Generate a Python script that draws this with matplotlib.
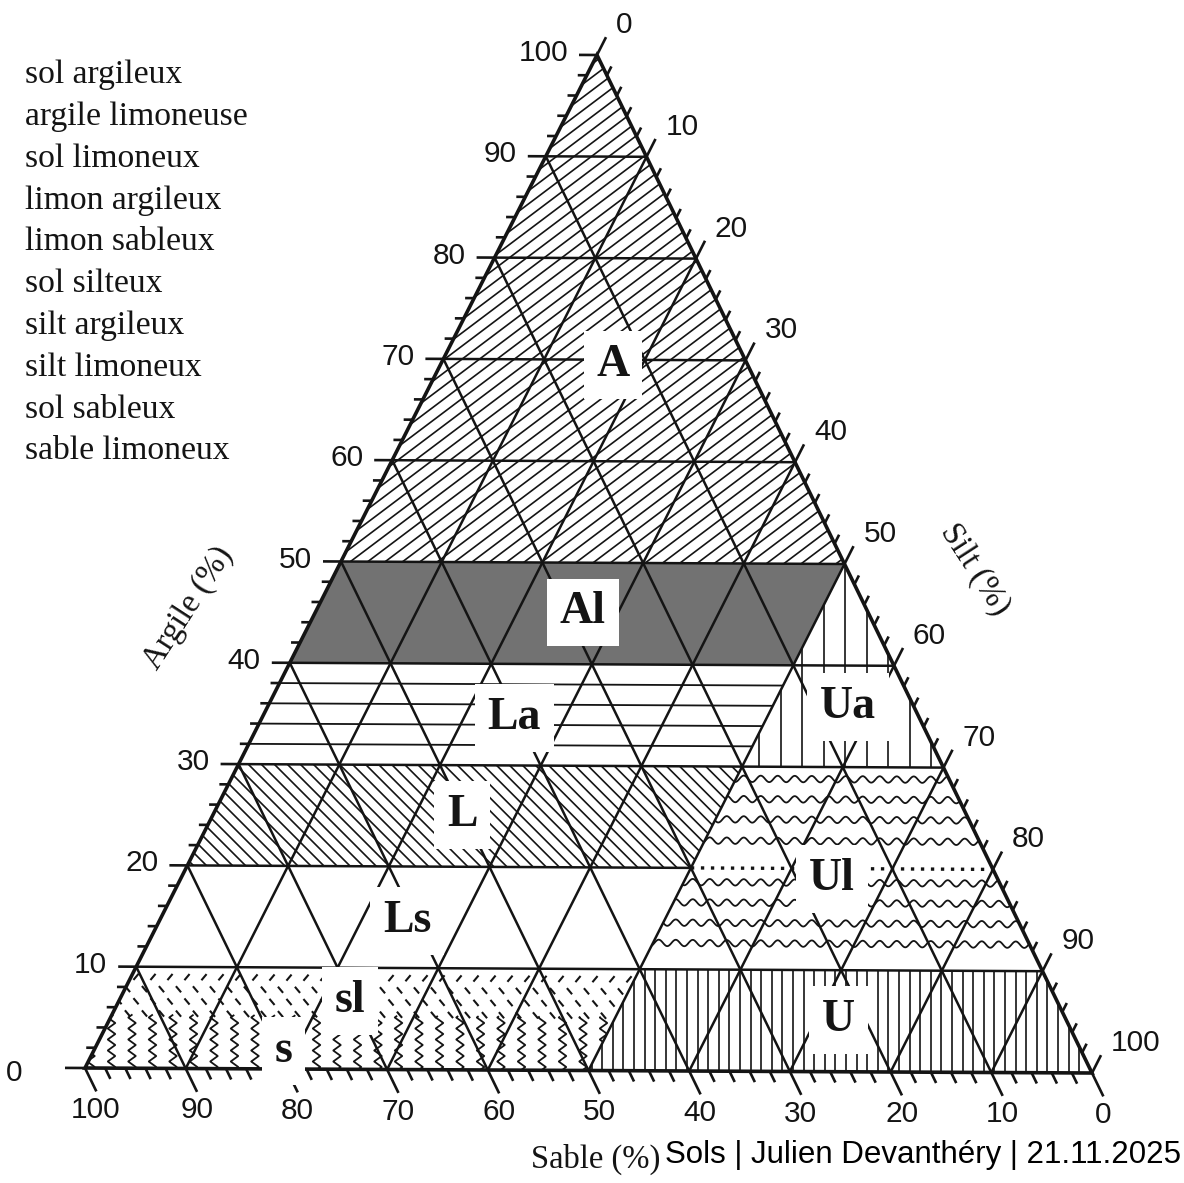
import numpy as np
import matplotlib.pyplot as plt
from matplotlib.patches import Polygon
from matplotlib.collections import LineCollection

# ------------------------------------------------------------
# Data – soil texture triangle (argile / sable / silt, in %)
# ------------------------------------------------------------
legend_names = ["sol argileux", "argile limoneuse", "sol limoneux",
                "limon argileux", "limon sableux", "sol silteux",
                "silt argileux", "silt limoneux", "sol sableux",
                "sable limoneux"]

# class corners as (argile %, sable %)
poly_A = [(100, 0), (50, 50), (50, 0)]
poly_Al = [(50, 50), (40, 60), (40, 10), (50, 0)]
poly_Ua = [(50, 0), (40, 10), (30, 20), (30, 0)]
poly_La = [(40, 60), (30, 70), (30, 20), (40, 10)]
poly_L = [(30, 70), (20, 80), (20, 30), (30, 20)]
poly_Ls = [(20, 80), (10, 90), (10, 40), (20, 30)]
poly_Ul = [(30, 20), (10, 40), (10, 0), (30, 0)]
poly_U = [(10, 40), (0, 50), (0, 0), (10, 0)]
poly_sl = [(10, 90), (0, 100), (0, 50), (10, 40)]

class_codes = ["A", "Al", "La", "L", "Ls", "sl", "s", "Ua", "Ul", "U"]

major_ticks = list(range(0, 101, 10))
minor_ticks = list(range(0, 101, 2))
grid_levels = list(range(10, 100, 10))

# ------------------------------------------------------------
# Layout / style
# ------------------------------------------------------------
TOP = np.array([597.0, 55.0])
LEFT = np.array([85.0, 1068.0])
RIGHT = np.array([1092.0, 1073.0])

INK = "#141414"
SERIF = "Liberation Serif"
SANS = "Liberation Sans"

# label anchors (argile, sable) for each class code
label_argile = [69.5, 45.1, 34.7, 25.1, 14.6, 6.7, 1.8, 35.9, 19.0, 5.1]
label_sable = [13.4, 28.4, 40.3, 50.2, 60.8, 70.4, 79.4, 6.6, 16.5, 22.7]


def tern(argile, sable):
    """(argile %, sable %) -> picture coordinates."""
    a = np.asarray(argile, dtype=float) / 100
    s = np.asarray(sable, dtype=float) / 100
    u = 1 - a - s
    x = a * TOP[0] + s * LEFT[0] + u * RIGHT[0]
    y = a * TOP[1] + s * LEFT[1] + u * RIGHT[1]
    return x, y


def to_px(poly):
    x, y = tern([p[0] for p in poly], [p[1] for p in poly])
    return np.column_stack([x, y])


def level_y(a, x):
    """y of the constant-argile line a at abscissa x."""
    x0, y0 = tern(a, 100 - a)
    x1, y1 = tern(a, 0)
    return y0 + (y1 - y0) * (np.asarray(x) - x0) / (x1 - x0)


def unit(v):
    return v / np.hypot(*v)


def clip_patch(ax, verts):
    p = Polygon(verts, closed=True, facecolor="none", edgecolor="none")
    ax.add_patch(p)
    return p


def add_clipped(ax, segs, verts, lw=1.2, ls="solid"):
    clip = clip_patch(ax, verts)
    lc = LineCollection(segs, colors=INK, linewidths=lw, linestyles=ls, zorder=2)
    ax.add_collection(lc)
    lc.set_clip_path(clip)


def hatch_lines(ax, verts, angle, spacing, lw=1.2):
    c = verts.mean(axis=0)
    r = np.hypot(*(verts.max(0) - verts.min(0)))
    th = np.deg2rad(angle)
    d = np.array([np.cos(th), -np.sin(th)])
    n = np.array([-d[1], d[0]])
    segs = []
    for k in np.arange(-r, r, spacing):
        m = c + k * n
        segs.append([m - r * d, m + r * d])
    add_clipped(ax, segs, verts, lw)


def hatch_levels(ax, verts, levels, lw=1.3):
    segs = []
    for a in levels:
        x, y = tern([a, a], [100 - a, 0])
        segs.append(list(zip(x, y)))
    add_clipped(ax, segs, verts, lw)


def wavy(ax, verts, levels, amp=3.2, wl=17.0, lw=1.3):
    xs = np.linspace(verts[:, 0].min() - 10, verts[:, 0].max() + 10, 800)
    segs = []
    for a in levels:
        ys = level_y(a, xs) + amp * np.sin(2 * np.pi * xs / wl)
        segs.append(np.column_stack([xs, ys]))
    add_clipped(ax, segs, verts, lw)


def zigzags(ax, verts, top_a, step=20.5, amp=3.8, wl=11.0, lw=1.3):
    segs = []
    for x0 in np.arange(verts[:, 0].min() + 6, verts[:, 0].max(), step):
        y_top = float(level_y(top_a, x0))
        y_bot = float(level_y(0, x0)) + 4
        ys = np.linspace(y_top, y_bot, 200)
        tri = 2 * np.abs(2 * ((ys / wl) % 1) - 1) - 1
        segs.append(np.column_stack([x0 + amp * tri, ys]))
    add_clipped(ax, segs, verts, lw)


def dashes(ax, verts, levels, step=17.0, length=8.0, lw=1.5):
    segs = []
    for i, a in enumerate(levels):
        ang = np.deg2rad(50 if i == 0 else -50)
        d = 0.5 * length * np.array([np.cos(ang), -np.sin(ang)])
        for x0 in np.arange(verts[:, 0].min() + (i % 2) * step / 2, verts[:, 0].max(), step):
            c = np.array([x0, float(level_y(a, x0))])
            segs.append([c - d, c + d])
    add_clipped(ax, segs, verts, lw)


# ------------------------------------------------------------
# Figure
# ------------------------------------------------------------
fig = plt.figure(figsize=(11.84, 11.83), dpi=100)
ax = fig.add_axes([0, 0, 1, 1])
ax.set_xlim(0, 1184)
ax.set_ylim(1183, 0)
ax.axis("off")

# ----- class fills & hatching -----
hatch_lines(ax, to_px(poly_A), 37, 10.5)
ax.add_patch(Polygon(to_px(poly_Al), closed=True, facecolor="#727272",
                     edgecolor="none", zorder=1))
hatch_levels(ax, to_px(poly_La), [38, 36, 34, 32])
hatch_lines(ax, to_px(poly_L), -45, 9.2)
hatch_lines(ax, to_px(poly_Ua), 90, 21.5)
hatch_lines(ax, to_px(poly_U), 90, 10.6)
wavy(ax, to_px(poly_Ul), [28.8, 26.8, 24.8, 22.7, 18.6, 16.6, 14.6, 12.6])
dashes(ax, to_px(poly_sl), [9.0, 7.8, 6.6, 5.4])
zigzags(ax, to_px(poly_sl), top_a=5.3)

# ----- grid -----
grid = []
for v in grid_levels:
    if v == 20:
        grid.append(list(zip(*tern([20, 20], [80, 30]))))
    else:
        grid.append(list(zip(*tern([v, v], [100 - v, 0]))))
    grid.append(list(zip(*tern([0, 100 - v], [v, v]))))          # constant sable
    grid.append(list(zip(*tern([0, 100 - v], [100 - v, 0]))))    # constant silt
ax.add_collection(LineCollection(grid, colors=INK, linewidths=1.8, zorder=3))
xd, yd = tern([20, 20], [30, 0])
ax.plot(xd, yd, color=INK, lw=2.4, ls=(0, (1, 2.0)), zorder=3)

# ----- triangle outline -----
ax.add_patch(Polygon(np.array([TOP, LEFT, RIGHT]), closed=True, facecolor="none",
                     edgecolor=INK, linewidth=2.6, zorder=4))

# ----- ticks -----
d_left = unit(LEFT - RIGHT)
d_right = unit(TOP - LEFT)
d_bottom = unit(RIGHT - TOP)
ticks = []
for v in minor_ticks:
    major = v % 10 == 0
    p = np.array(tern(v, 100 - v))                 # argile axis (left)
    ticks.append([p, p + d_left * ((20 if v == 0 else 18) if major else 9)])
    p = np.array(tern(100 - v, 0))                 # silt axis (right)
    ticks.append([p, p + d_right * (20 if major else 10)])
    p = np.array(tern(0, v))                       # sable axis (bottom)
    ticks.append([p, p + d_bottom * (26 if major else 12)])
ax.add_collection(LineCollection(ticks, colors=INK, linewidths=1.9, zorder=4))

for v in major_ticks:
    x, y = tern(v, 100 - v)
    ax.text(x - (63 if v == 0 else 29), y + (5 if v == 0 else -2), str(v),
            ha="right", va="center", fontsize=21.5, family=SANS, color=INK)
    x, y = tern(100 - v, 0)
    ax.text(x + 19, y - 30, str(v), ha="left", va="center",
            fontsize=21.5, family=SANS, color=INK)
    x, y = tern(0, v)
    ax.text(x + 11, y + 42, str(v), ha="center", va="center",
            fontsize=21.5, family=SANS, color=INK)

# ----- class labels -----
for code, a, s in zip(class_codes, label_argile, label_sable):
    x, y = tern(a, s)
    ax.text(x, y, code, ha="center", va="center", fontsize=33, fontweight="bold",
            family=SERIF, color=INK, zorder=6,
            bbox=dict(boxstyle="square,pad=0.28", facecolor="white", edgecolor="none"))

# ----- axis titles -----
ax.text(188, 608, "Argile (%)", rotation=57, ha="center", va="center",
        fontsize=23.5, family=SERIF, color=INK)
ax.text(975, 570, "Silt (%)", rotation=-57, ha="center", va="center",
        fontsize=23.5, family=SERIF, color=INK)
ax.text(596, 1168, "Sable (%)", ha="center", va="baseline",
        fontsize=23.5, family=SERIF, color=INK)

# ----- legend list -----
for i, name in enumerate(legend_names):
    ax.text(25, 75 + 41.8 * i, name, ha="left", va="center",
            fontsize=24.2, family=SERIF, color=INK)

# ----- footer -----
ax.text(665, 1163, "Sols | Julien Devanthéry | 21.11.2025", ha="left",
        va="baseline", fontsize=22.5, family=SANS, color="black")

fig.savefig("out.png", dpi=100)
